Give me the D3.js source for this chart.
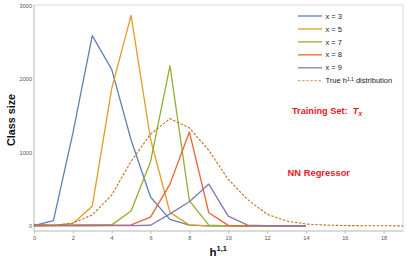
<!DOCTYPE html>
<html><head><meta charset="utf-8">
<script src="https://cdn.jsdelivr.net/npm/d3@7"></script>
<style>body{margin:0;background:#fff}svg{display:block}</style>
</head><body>
<svg id="c" width="407" height="263"></svg>
<script>
const xs = d3.range(0, 15);
const xsTrue = d3.range(0, 20);
const seriesNames = ["x = 3", "x = 5", "x = 7", "x = 8", "x = 9"];
const s3 = [5, 72, 1260, 2590, 2130, 1170, 395, 90, 12, 3, 2, 1, 0, 0, 0];
const s5 = [23, 5, 35, 270, 1870, 2865, 1180, 185, 14, 3, 1, 0, 0, 0, 0];
const s7 = [5, 8, 12, 14, 15, 205, 875, 2180, 345, 12, 3, 1, 0, 0, 0];
const s8 = [12, 12, 12, 12, 13, 14, 120, 570, 1280, 180, 8, 3, 1, 0, 0];
const s9 = [0, 1, 2, 3, 4, 5, 10, 165, 330, 570, 135, 12, 4, 2, 1];
const trueDist = [20, 8, 40, 150, 420, 880, 1250, 1460, 1335, 1030, 635, 360, 160, 68, 27, 12, 6, 4, 3, 2];
const xTicks = [0, 2, 4, 6, 8, 10, 12, 14, 16, 18];
const yTicks = [0, 1000, 2000, 3000];
const colors = ["#5E81B5", "#E19C24", "#8FB032", "#EB6235", "#8778B3"];
const trueColor = "#C56E1A";

const svg = d3.select("#c");
const font = "'Liberation Sans', Arial, sans-serif";
const x = d3.scaleLinear().domain([0, 19]).range([34, 403]);
const y = d3.scaleLinear().domain([0, 3000]).range([226, 5.5]);
const yBottom = 231, yTop = 5;

// frame
svg.append("rect").attr("x", x(0)).attr("y", yTop).attr("width", x(19) - x(0)).attr("height", yBottom - yTop)
  .attr("fill", "none").attr("stroke", "#dcdcdc").attr("stroke-width", 1);
svg.append("line").attr("x1", x(0)).attr("x2", x(0)).attr("y1", yTop).attr("y2", yBottom).attr("stroke", "#c8c8c8");
svg.append("line").attr("x1", x(0)).attr("x2", x(19)).attr("y1", yBottom).attr("y2", yBottom).attr("stroke", "#c8c8c8");

// x axis
const xAxis = d3.axisBottom(x).tickValues(xTicks).tickSize(2.5).tickPadding(3).tickFormat(d3.format("d"));
const gx = svg.append("g").attr("transform", `translate(0,${yBottom})`).call(xAxis);
gx.select(".domain").remove();
gx.selectAll(".tick line").attr("stroke", "#bbb");
gx.selectAll(".tick text").attr("fill", "#555").attr("font-size", 5.6).attr("font-family", font);

// y axis
const yAxis = d3.axisLeft(y).tickValues(yTicks).tickSize(0).tickPadding(2).tickFormat(d3.format("d"));
const gy = svg.append("g").attr("transform", `translate(${x(0)},0)`).call(yAxis);
gy.select(".domain").remove();
gy.selectAll(".tick text").attr("fill", "#555").attr("font-size", 5.6).attr("font-family", font);

// lines
const line = d3.line().x((d, i) => x(i)).y(d => y(d));
[s3, s5, s7, s8, s9].forEach((s, k) => {
  svg.append("path").datum(s).attr("d", line).attr("fill", "none")
    .attr("stroke", colors[k]).attr("stroke-width", 1.3).attr("stroke-linejoin", "round");
});
svg.append("path").datum(trueDist).attr("d", line).attr("fill", "none")
  .attr("stroke", trueColor).attr("stroke-width", 1.1).attr("stroke-dasharray", "2.5,1.6");

// legend
const lg = svg.append("g").attr("font-family", font).attr("font-size", 7.5).attr("fill", "#222");
seriesNames.forEach((n, k) => {
  const yy = 16 + k * 12.95;
  lg.append("line").attr("x1", 298).attr("x2", 322).attr("y1", yy).attr("y2", yy)
    .attr("stroke", colors[k]).attr("stroke-width", 1.3);
  lg.append("text").attr("x", 325.5).attr("y", yy + 2.6).text(n);
});
{
  const yy = 16 + 5 * 12.95;
  lg.append("line").attr("x1", 298).attr("x2", 322).attr("y1", yy).attr("y2", yy)
    .attr("stroke", trueColor).attr("stroke-width", 1.1).attr("stroke-dasharray", "2.5,1.6").attr("opacity", 0.75);
  const t = lg.append("text").attr("x", 325.5).attr("y", yy + 2.6);
  t.append("tspan").text("True h");
  t.append("tspan").attr("font-size", 5).attr("dy", -2.7).text("1,1");
  t.append("tspan").attr("dy", 2.7).text(" distribution");
}

// annotations
const a1 = svg.append("text").attr("x", 292).attr("y", 113.8).attr("font-family", font)
  .attr("font-weight", "bold").attr("font-size", 9.2).attr("fill", "#F0141E");
a1.append("tspan").text("Training Set:\u00A0\u00A0");
a1.append("tspan").attr("font-style", "italic").text("T");
a1.append("tspan").attr("font-style", "italic").attr("font-size", 6.5).attr("dy", 2).text("x");

svg.append("text").attr("x", 287.5).attr("y", 176.3).attr("font-family", font)
  .attr("font-weight", "bold").attr("font-size", 9.4).attr("fill", "#F0141E").text("NN Regressor");

// axis labels
svg.append("text").attr("transform", "translate(15,120) rotate(-90)").attr("text-anchor", "middle")
  .attr("font-family", font).attr("font-weight", "bold").attr("font-size", 10.8).attr("fill", "#111").text("Class size");
const xl = svg.append("text").attr("x", 209.5).attr("y", 255.7).attr("font-family", font)
  .attr("font-weight", "bold").attr("font-size", 11.5).attr("fill", "#111");
xl.append("tspan").text("h");
xl.append("tspan").attr("font-size", 7.5).attr("dy", -4.8).text("1,1");
</script>
</body></html>
